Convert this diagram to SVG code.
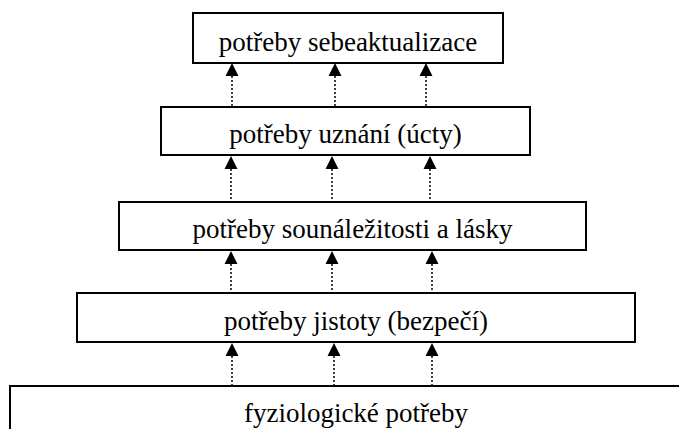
<svg xmlns="http://www.w3.org/2000/svg" width="679" height="429" viewBox="0 0 679 429">
<style>
.box{fill:#fff;stroke:#000;stroke-width:2}
.lbl{font-size:27px;fill:#000;text-anchor:middle}
.con{stroke:#000;stroke-width:1.5;stroke-dasharray:2 2;fill:none}
.head{fill:#000}
</style>
<rect width="679" height="429" fill="#fff"/>
<g id="n1"><rect class="box" x="193" y="13" width="310" height="50"/><text class="lbl" font-family="Liberation Serif, DejaVu Serif, serif" x="348" y="51">potřeby sebeaktualizace</text></g>
<g id="n2"><rect class="box" x="161" y="107" width="369" height="48"/><text class="lbl" font-family="Liberation Serif, DejaVu Serif, serif" x="345.5" y="143">potřeby uznání (úcty)</text></g>
<g id="n3"><rect class="box" x="119" y="202" width="467" height="48"/><text class="lbl" font-family="Liberation Serif, DejaVu Serif, serif" x="352.5" y="238">potřeby sounáležitosti a lásky</text></g>
<g id="n4"><rect class="box" x="77" y="293" width="558" height="49"/><text class="lbl" font-family="Liberation Serif, DejaVu Serif, serif" x="356" y="330">potřeby jistoty (bezpečí)</text></g>
<g id="n5"><rect class="box" x="10" y="386" width="692" height="60"/><text class="lbl" font-family="Liberation Serif, DejaVu Serif, serif" x="356" y="422">fyziologické potřeby</text></g>
<g id="connectors">
<path class="con" d="M232 76V106M335 76V106M426 76V106"/>
<path class="head" d="M232 63l-6.5 13h13zM335 63l-6.5 13h13zM426 63l-6.5 13h13z"/>
<path class="con" d="M231 169V201M332 169V201M430 169V201"/>
<path class="head" d="M231 156l-6.5 13h13zM332 156l-6.5 13h13zM430 156l-6.5 13h13z"/>
<path class="con" d="M231 264V292M332 264V292M432 264V292"/>
<path class="head" d="M231 251l-6.5 13h13zM332 251l-6.5 13h13zM432 251l-6.5 13h13z"/>
<path class="con" d="M232 356V385M334 356V385M432 356V385"/>
<path class="head" d="M232 343l-6.5 13h13zM334 343l-6.5 13h13zM432 343l-6.5 13h13z"/>
</g>
</svg>
